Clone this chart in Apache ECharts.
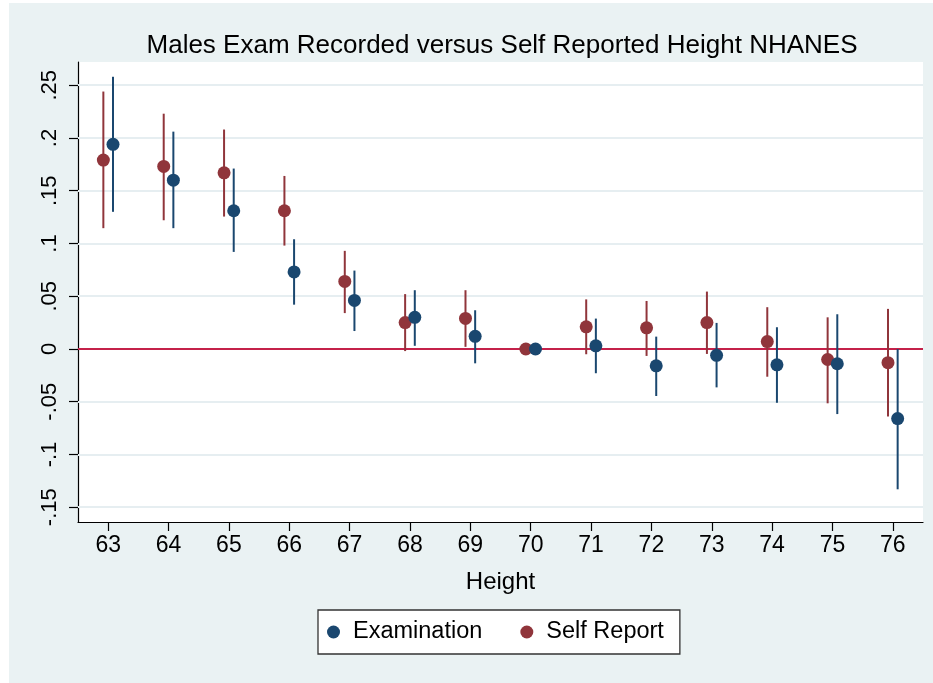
<!DOCTYPE html>
<html>
<head>
<meta charset="utf-8">
<script src="https://cdn.jsdelivr.net/npm/echarts@6/dist/echarts.min.js"></script>
<style>
  html, body { margin: 0; padding: 0; background: #ffffff; }
  #chart { position: absolute; left: 9px; top: 3px; width: 924px; height: 680px; background: #eaf2f3; }
</style>
</head>
<body>
<div id="chart"></div>
<script>
// Height (inches) categories
const heights = [63, 64, 65, 66, 67, 68, 69, 70, 71, 72, 73, 74, 75, 76];

// Examination-measured estimates with confidence bounds
const examEst = [0.194, 0.160, 0.131, 0.073, 0.046, 0.030, 0.012, 0, 0.003, -0.016, -0.006, -0.015, -0.014, -0.066];
const examLo  = [0.130, 0.1145, 0.092, 0.042, 0.017, 0.003, -0.0136, 0, -0.023, -0.0446, -0.0364, -0.051, -0.0617, -0.133];
const examHi  = [0.258, 0.206, 0.171, 0.104, 0.0743, 0.0557, 0.0367, 0, 0.0288, 0.0117, 0.0247, 0.0206, 0.0329, 0.0];

// Self-reported estimates with confidence bounds
const selfEst = [0.179, 0.173, 0.167, 0.131, 0.064, 0.025, 0.029, 0, 0.021, 0.020, 0.025, 0.007, -0.010, -0.013];
const selfLo  = [0.1145, 0.122, 0.1255, 0.098, 0.034, -0.002, 0.002, 0, -0.005, -0.0066, -0.0047, -0.0263, -0.0515, -0.064];
const selfHi  = [0.244, 0.223, 0.208, 0.164, 0.093, 0.052, 0.0557, 0, 0.047, 0.0455, 0.0544, 0.0396, 0.030, 0.038];

// Axis ticks
const yTicks = [-0.15, -0.1, -0.05, 0, 0.05, 0.1, 0.15, 0.2, 0.25];
const yTickLabels = ['-.15', '-.1', '-.05', '0', '.05', '.1', '.15', '.2', '.25'];
const xTicks = heights.slice();

const BLUE = '#1a476f';
const RED = '#90353b';
const ZERO = '#c4214a';
const FONT = '"Liberation Sans", Arial, sans-serif';
const SHIFT = 0.08; // side-by-side offset of the two estimates at each height

function points(est, dx) {
  return heights.map((h, i) => [h + dx, est[i]]);
}
function bars(lo, hi, dx) {
  return heights.map((h, i) => [h + dx, lo[i], hi[i]]);
}
function barRenderer(color) {
  return function (params, api) {
    const p1 = api.coord([api.value(0), api.value(1)]);
    const p2 = api.coord([api.value(0), api.value(2)]);
    return {
      type: 'line',
      shape: { x1: p1[0], y1: p1[1], x2: p2[0], y2: p2[1] },
      style: { stroke: color, lineWidth: 2 }
    };
  };
}

const chart = echarts.init(document.getElementById('chart'), null, { renderer: 'canvas' });

chart.setOption({
  animation: false,
  title: {
    text: 'Males Exam Recorded versus Self Reported Height NHANES',
    left: 488,
    top: 25,
    textAlign: 'center',
    textStyle: { fontFamily: FONT, fontSize: 26, fontWeight: 'normal', color: '#000' }
  },
  grid: {
    left: 69, right: 10, top: 59, bottom: 161,
    show: true, backgroundColor: '#ffffff', borderWidth: 0
  },
  legend: {
    data: ['Examination', 'Self Report'],
    left: 309, top: 607,
    padding: [10, 16, 10, 9],
    itemGap: 38,
    itemWidth: 13, itemHeight: 13,
    icon: 'circle',
    backgroundColor: '#ffffff',
    borderColor: '#333333',
    borderWidth: 1.3,
    borderRadius: 0,
    textStyle: { fontFamily: FONT, fontSize: 23.5, color: '#000', padding: [0, 0, 0, 8] }
  },
  xAxis: {
    type: 'value',
    min: 62.5, max: 76.5,
    name: 'Height',
    nameLocation: 'middle',
    nameGap: 48,
    nameTextStyle: { fontFamily: FONT, fontSize: 24, color: '#000' },
    axisLine: { onZero: false, lineStyle: { color: '#000', width: 1.2 } },
    axisTick: { customValues: xTicks, length: 9, lineStyle: { color: '#000', width: 1.2 } },
    axisLabel: { customValues: xTicks, margin: 12, fontFamily: FONT, fontSize: 23, color: '#000' },
    splitLine: { show: false }
  },
  yAxis: {
    type: 'value',
    min: -0.164, max: 0.272,
    axisLine: { show: true, lineStyle: { color: '#000', width: 1.2 } },
    axisTick: { show: true, customValues: yTicks, length: 9, lineStyle: { color: '#000', width: 1.2 } },
    axisLabel: {
      customValues: yTicks,
      rotate: 90,
      margin: 17,
      fontFamily: FONT, fontSize: 22, color: '#000',
      formatter: function (v) {
        const i = yTicks.findIndex(t => Math.abs(t - v) < 1e-9);
        return i >= 0 ? yTickLabels[i] : '';
      }
    },
    splitLine: { show: false }
  },
  series: [
    {
      // horizontal gridlines and the reference line at zero, kept beneath the marks
      type: 'line',
      data: [],
      silent: true,
      z: 1,
      markLine: {
        silent: true,
        z: 1,
        symbol: 'none',
        label: { show: false },
        animation: false,
        data: yTicks.filter(t => t !== 0).map(t => ({
          yAxis: t, lineStyle: { color: '#e6eef1', width: 2, type: 'solid' }
        })).concat([{ yAxis: 0, lineStyle: { color: ZERO, width: 2, type: 'solid' } }])
      }
    },
    {
      name: 'Self Report CI',
      type: 'custom',
      renderItem: barRenderer(RED),
      data: bars(selfLo, selfHi, -SHIFT),
      encode: { x: 0, y: [1, 2] },
      z: 6
    },
    {
      name: 'Self Report',
      type: 'scatter',
      data: points(selfEst, -SHIFT),
      symbol: 'circle',
      symbolSize: 13,
      itemStyle: { color: RED, opacity: 1 },
      z: 7
    },
    {
      name: 'Examination CI',
      type: 'custom',
      renderItem: barRenderer(BLUE),
      data: bars(examLo, examHi, SHIFT),
      encode: { x: 0, y: [1, 2] },
      z: 8
    },
    {
      name: 'Examination',
      type: 'scatter',
      data: points(examEst, SHIFT),
      symbol: 'circle',
      symbolSize: 13,
      itemStyle: { color: BLUE, opacity: 1 },
      z: 9
    }
  ]
});
</script>
</body>
</html>
